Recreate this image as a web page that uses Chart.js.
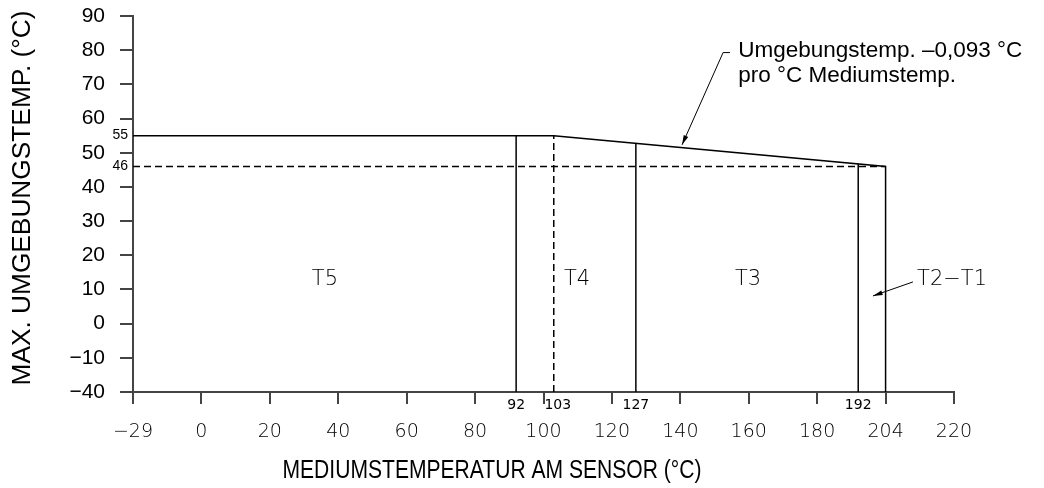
<!DOCTYPE html>
<html>
<head>
<meta charset="utf-8">
<script src="https://cdn.jsdelivr.net/npm/chart.js@4.4.1/dist/chart.umd.min.js"></script>
<style>
html,body{margin:0;padding:0;background:#fff;}
canvas{display:block;}
</style>
</head>
<body>
<canvas id="c" width="1044" height="488"></canvas>
<script>
// ---- data (drawing units; axis is schematic: -20 position labelled −29, 200 labelled 204, y -20 labelled −40)
const xTickValues = [-20, 0, 20, 40, 60, 80, 100, 120, 140, 160, 180, 200, 220];
const xTickLabels = ['\u221229', '0', '20', '40', '60', '80', '100', '120', '140', '160', '180', '204', '220'];
const yTickValues = [-20, -10, 0, 10, 20, 30, 40, 50, 60, 70, 80, 90];
const yTickLabels = ['\u221240', '\u221210', '0', '10', '20', '30', '40', '50', '60', '70', '80', '90'];

// maximum ambient temperature boundary
const limitX = [-20, 103, 200, 200];
const limitY = [55, 55, 46, -20];

// solid zone dividers (process temperature) and their top on the boundary
const dividerX = [92, 127, 192];
const dividerTop = [55, 52.8, 46.7];
const dividerLabels = ['92', '127', '192'];

// dashed references
const dashedVX = 103, dashedVTop = 55, dashedVLabel = '103';
const dashedHY = 46, dashedHEnd = 200;
const levelValues = [55, 46];
const levelLabels = ['55', '46'];

// zone names
const zoneNames = ['T5', 'T4', 'T3', 'T2\u2212T1'];
const zoneX = [36.1, 109.8, 159.8, 209.2];
const zoneY = 12.8;

const xTitle = 'MEDIUMSTEMPERATUR AM SENSOR (\u00B0C)';
const yTitle = 'MAX. UMGEBUNGSTEMP. (\u00B0C)';
const noteLines = ['Umgebungstemp. \u20130,093 \u00B0C', 'pro \u00B0C Mediumstemp.'];

const Y_MIN = -20;
const techFont = "'DejaVu Sans', sans-serif";
const sansFont = "'Liberation Sans', Arial, sans-serif";

const datasets = [];
datasets.push({
  data: limitX.map((x, i) => ({x, y: limitY[i]})),
  borderColor: '#000', borderWidth: 1.5
});
dividerX.forEach((x, i) => {
  datasets.push({
    data: [{x, y: Y_MIN}, {x, y: dividerTop[i]}],
    borderColor: '#000', borderWidth: 1.5
  });
});
datasets.push({
  data: [{x: dashedVX, y: Y_MIN}, {x: dashedVX, y: dashedVTop}],
  borderColor: '#000', borderWidth: 1.5, borderDash: [7, 4]
});
datasets.push({
  data: [{x: -20, y: dashedHY}, {x: dashedHEnd, y: dashedHY}],
  borderColor: '#000', borderWidth: 1.5, borderDash: [7, 4]
});
datasets.forEach(d => { d.showLine = true; d.pointRadius = 0; d.fill = false; d.clip = false; d.tension = 0; });

function arrow(ctx, x1, y1, x2, y2, size) {
  ctx.beginPath(); ctx.moveTo(x1, y1); ctx.lineTo(x2, y2); ctx.stroke();
  const a = Math.atan2(y2 - y1, x2 - x1);
  ctx.beginPath();
  ctx.moveTo(x2, y2);
  ctx.lineTo(x2 - size * Math.cos(a - 0.25), y2 - size * Math.sin(a - 0.25));
  ctx.lineTo(x2 - size * Math.cos(a + 0.25), y2 - size * Math.sin(a + 0.25));
  ctx.closePath(); ctx.fill();
}

function fitText(ctx, text, x, y, width) {
  const w = ctx.measureText(text).width;
  ctx.save();
  ctx.translate(x, y);
  ctx.scale(width / w, 1);
  ctx.fillText(text, 0, 0);
  ctx.restore();
}

const annot = {
  id: 'annot',
  afterDraw(chart) {
    const ctx = chart.ctx, xs = chart.scales.x, ys = chart.scales.y, ca = chart.chartArea;
    ctx.save();
    ctx.fillStyle = '#000'; ctx.strokeStyle = '#000';
    // axis titles
    ctx.font = '25px ' + sansFont;
    ctx.textAlign = 'center'; ctx.textBaseline = 'middle';
    fitText(ctx, xTitle, 492, 471, 419);
    ctx.save();
    ctx.translate(23, 198);
    ctx.rotate(-Math.PI / 2);
    ctx.font = '26px ' + sansFont;
    fitText(ctx, yTitle, 0, 0, 375);
    ctx.restore();
    // level labels
    ctx.font = '14px ' + sansFont;
    ctx.textAlign = 'right';
    levelValues.forEach((v, i) => ctx.fillText(levelLabels[i], ca.left - 5, ys.getPixelForValue(v)));
    // divider labels below axis
    ctx.font = '14px ' + techFont;
    ctx.textAlign = 'center';
    dividerX.forEach((x, i) => ctx.fillText(dividerLabels[i], xs.getPixelForValue(x), ca.bottom + 13));
    ctx.fillText(dashedVLabel, xs.getPixelForValue(dashedVX) + 4, ca.bottom + 13);
    // zone names
    ctx.font = '200 21px ' + techFont;
    zoneNames.forEach((n, i) => {
      ctx.textAlign = i === 3 ? 'left' : 'center';
      ctx.fillText(n, xs.getPixelForValue(zoneX[i]), ys.getPixelForValue(zoneY));
    });
    // T2-T1 arrow
    ctx.lineWidth = 1;
    arrow(ctx, xs.getPixelForValue(208.0), ys.getPixelForValue(12.2), xs.getPixelForValue(196.3), ys.getPixelForValue(8.1), 10);
    // slope note
    ctx.font = '22.5px ' + sansFont;
    ctx.textAlign = 'left'; ctx.textBaseline = 'alphabetic';
    ctx.fillText(noteLines[0], xs.getPixelForValue(156.9), ys.getPixelForValue(78.0));
    ctx.fillText(noteLines[1], xs.getPixelForValue(156.9), ys.getPixelForValue(70.7));
    ctx.beginPath();
    ctx.moveTo(xs.getPixelForValue(154.5), ys.getPixelForValue(79.3));
    ctx.lineTo(xs.getPixelForValue(152.5), ys.getPixelForValue(79.3));
    ctx.stroke();
    arrow(ctx, xs.getPixelForValue(152.5), ys.getPixelForValue(79.3), xs.getPixelForValue(140.5), ys.getPixelForValue(52.3), 10);
    ctx.restore();
  }
};

new Chart(document.getElementById('c'), {
  type: 'scatter',
  data: {datasets},
  plugins: [annot],
  options: {
    responsive: false,
    devicePixelRatio: 1,
    animation: false,
    layout: {padding: {top: 16, right: 90, left: 0, bottom: 0}},
    plugins: {legend: {display: false}, tooltip: {enabled: false}},
    scales: {
      x: {
        type: 'linear', min: -20, max: 220,
        afterBuildTicks: s => { s.ticks = xTickValues.map(v => ({value: v})); },
        afterFit: s => { s.height = 96; s.paddingLeft = 0; s.paddingRight = 0; },
        ticks: {
          callback: v => xTickLabels[xTickValues.indexOf(v)],
          font: {family: techFont, size: 19, weight: 200},
          color: '#000', padding: 17, maxRotation: 0, autoSkip: false
        },
        grid: {drawOnChartArea: false, tickLength: 12, color: '#444', lineWidth: 2},
        border: {color: '#444', width: 2}
      },
      y: {
        type: 'linear', min: -20, max: 90,
        afterBuildTicks: s => { s.ticks = yTickValues.map(v => ({value: v})); },
        afterFit: s => { s.width = 133; s.paddingTop = 0; s.paddingBottom = 0; },
        ticks: {
          callback: v => yTickLabels[yTickValues.indexOf(v)],
          font: {family: sansFont, size: 21},
          color: '#000', padding: 15, autoSkip: false
        },
        grid: {drawOnChartArea: false, tickLength: 13, color: '#444', lineWidth: 2},
        border: {color: '#444', width: 2}
      }
    }
  }
});
</script>
</body>
</html>
